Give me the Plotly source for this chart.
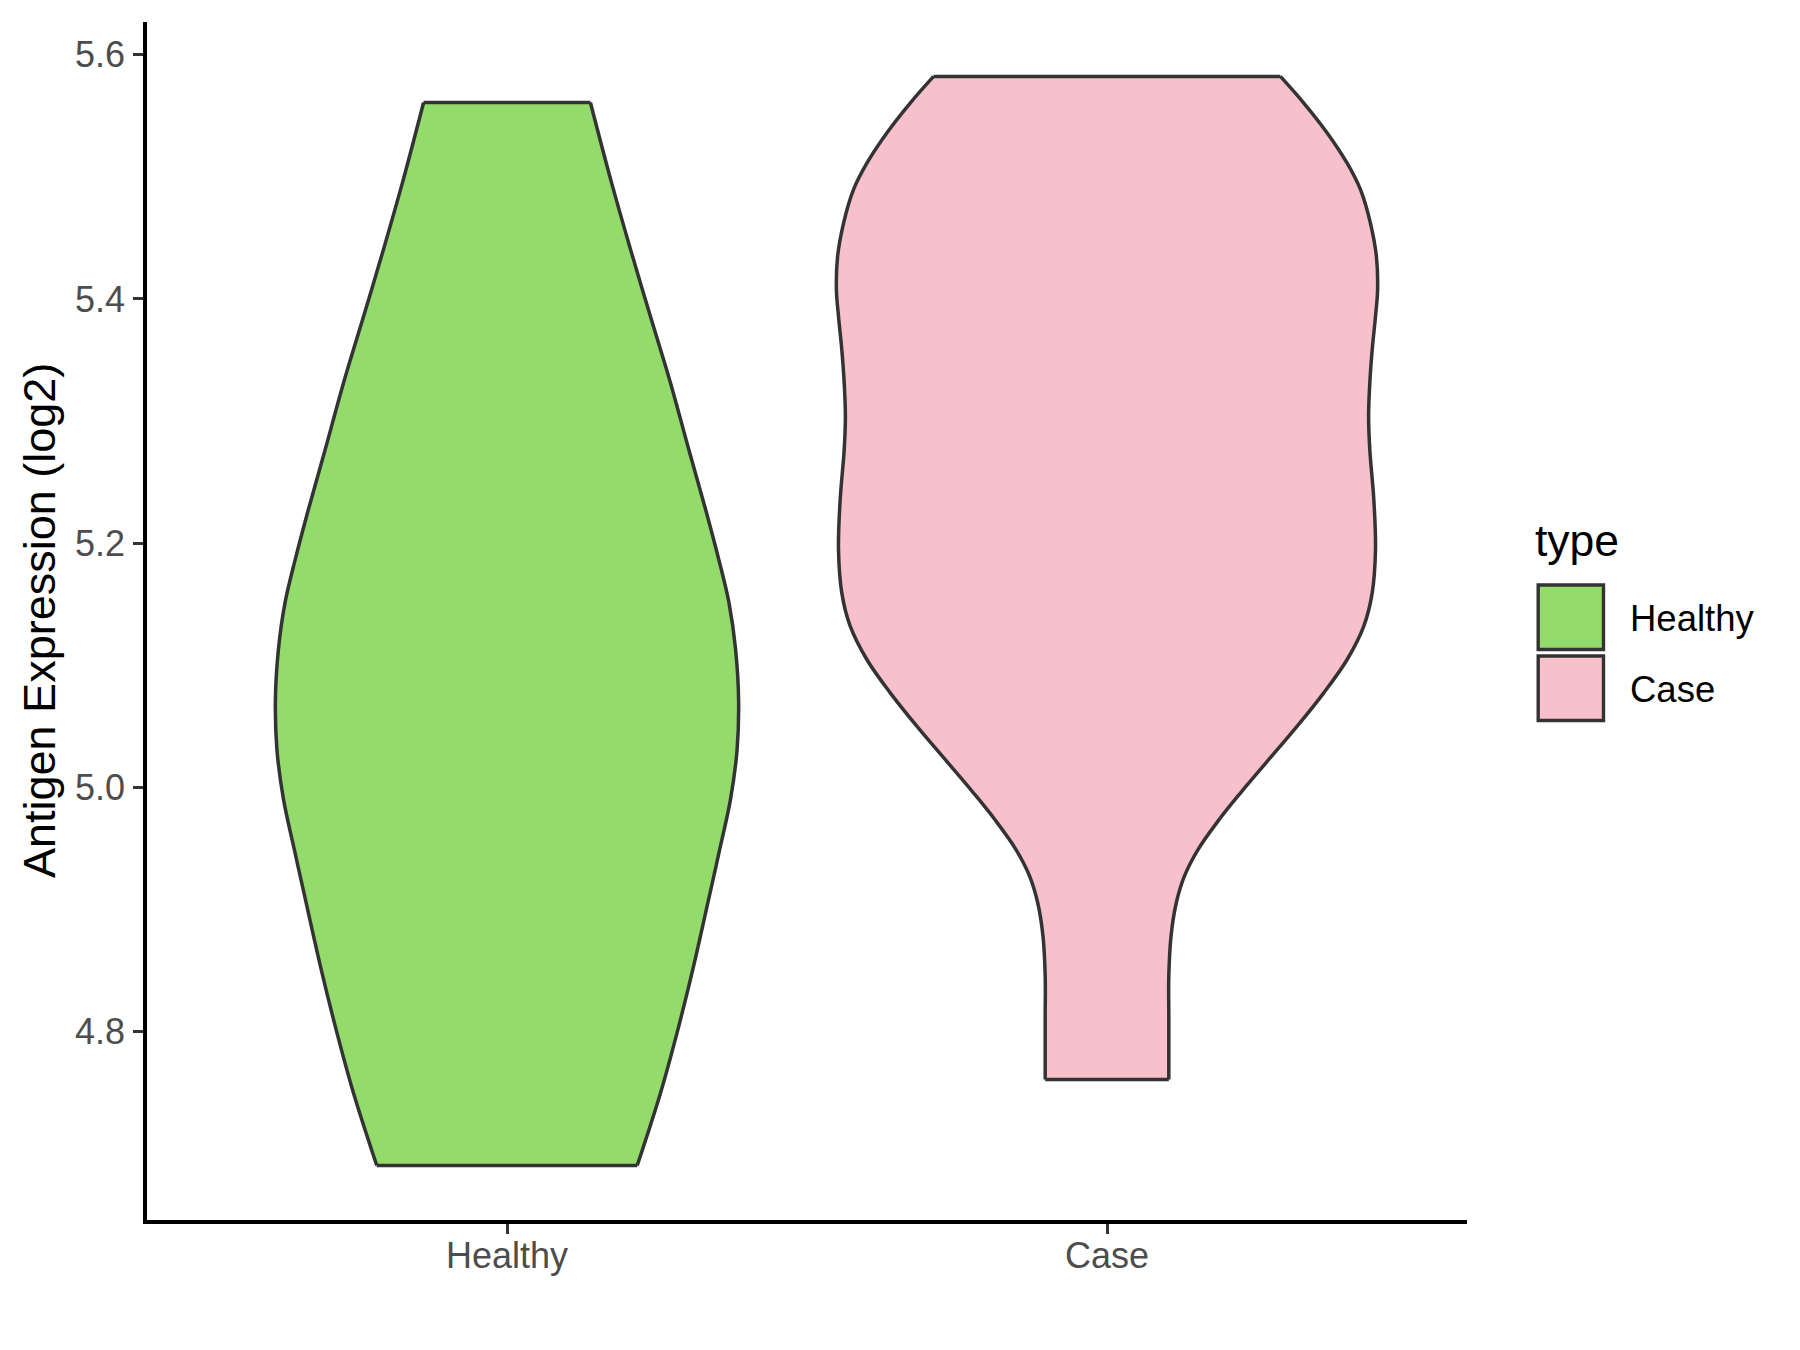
import plotly.graph_objects as go

# ---------------- data ----------------
categories = ["Healthy", "Case"]
fill_colors = ["#93DB6B", "#F7C0CB"]
outline_color = "#333333"

# violin outline: expression level (log2) and half-width of the density (x-axis units)
healthy_y = [4.690, 4.7497, 4.7989, 4.8534, 4.908, 4.949, 4.990, 5.0309, 5.0718,
             5.1128, 5.151, 5.1865, 5.2275, 5.2766, 5.3312, 5.3858, 5.4404, 5.4957, 5.561]
healthy_halfwidth = [0.217, 0.256, 0.2835, 0.311, 0.336, 0.3545, 0.3725, 0.3835, 0.386,
                     0.381, 0.370, 0.353, 0.331, 0.303, 0.2725, 0.239, 0.206, 0.174, 0.139]

case_y = [4.7606, 4.8124, 4.8452, 4.878, 4.9053, 4.9271, 4.9489, 4.9735, 4.9954, 5.0227,
          5.050, 5.0773, 5.1046, 5.1319, 5.1592, 5.1947, 5.2356, 5.2766, 5.3038, 5.3312,
          5.3585, 5.3857, 5.4076, 5.4349, 5.4622, 5.4895, 5.5114, 5.536, 5.5605, 5.5823]
case_halfwidth = [0.103, 0.103, 0.103, 0.1067, 0.1155, 0.129, 0.1517, 0.187, 0.2227, 0.2698,
                  0.317, 0.3613, 0.4003, 0.428, 0.442, 0.4475, 0.4447, 0.438, 0.436, 0.438,
                  0.442, 0.4475, 0.451, 0.449, 0.439, 0.4225, 0.400, 0.367, 0.328, 0.289]

y_ticks = [4.8, 5.0, 5.2, 5.4, 5.6]
y_title = "Antigen Expression (log2)"
legend_title = "type"

# ---------------- figure ----------------
W, H = 1800, 1350
OFF = 8  # default body margin of the html page
L, T = 139, 14
plot_w, plot_h = 1320, 1198
R = W - L - plot_w
B = H - T - plot_h

profiles = [(healthy_y, healthy_halfwidth), (case_y, case_halfwidth)]
LW = 3.5

fig = go.Figure()
for i, (ys, hw) in enumerate(profiles):
    c = i + 1
    left_x = [c - w for w in hw]
    right_x = [c + w for w in hw]
    fig.add_trace(go.Scatter(x=left_x, y=ys, mode="lines",
                             line=dict(width=0, shape="spline", smoothing=1, simplify=False),
                             showlegend=False, hoverinfo="skip"))
    fig.add_trace(go.Scatter(x=right_x, y=ys, mode="lines",
                             line=dict(width=0, shape="spline", smoothing=1, simplify=False),
                             fill="tonextx", fillcolor=fill_colors[i],
                             name=categories[i], showlegend=False, hoverinfo="skip"))
for i, (ys, hw) in enumerate(profiles):
    c = i + 1
    left_x = [c - w for w in hw]
    right_x = [c + w for w in hw]
    for xs in (left_x, right_x):
        fig.add_trace(go.Scatter(x=xs, y=ys, mode="lines",
                                 line=dict(width=LW, color=outline_color, shape="spline",
                                           smoothing=1, simplify=False),
                                 showlegend=False, hoverinfo="skip"))
    fig.add_trace(go.Scatter(x=[left_x[0], right_x[0], None, left_x[-1], right_x[-1]],
                             y=[ys[0], ys[0], None, ys[-1], ys[-1]],
                             mode="lines", line=dict(width=LW, color=outline_color),
                             showlegend=False, hoverinfo="skip"))

font_family = "Liberation Sans, Arial, sans-serif"

y_min = min(min(healthy_y), min(case_y))
y_max = max(max(healthy_y), max(case_y))
pad = (y_max - y_min) * 0.05

fig.update_layout(
    width=W, height=H,
    margin=dict(l=L, r=R, t=T, b=B, pad=0),
    paper_bgcolor="white", plot_bgcolor="white",
    font=dict(family=font_family, size=36, color="#4D4D4D"),
    showlegend=False,
)
fig.update_xaxes(
    range=[0.4, 2.6], tickmode="array", tickvals=[1, 2], ticktext=categories,
    showgrid=False, zeroline=False, showline=True, linecolor="black", linewidth=3.5,
    ticks="outside", ticklen=10, tickwidth=3.2, tickcolor="#333333",
    tickfont=dict(size=36, color="#4D4D4D", family=font_family),
    ticklabelstandoff=-9,
)
fig.update_yaxes(
    range=[y_min - pad, y_max + pad], tickmode="array", tickvals=y_ticks,
    ticktext=[f"{v:.1f}" for v in y_ticks],
    showgrid=False, zeroline=False, showline=True, linecolor="black", linewidth=3.5,
    ticks="outside", ticklen=10, tickwidth=3.2, tickcolor="#333333",
    tickfont=dict(size=36, color="#4D4D4D", family=font_family),
    ticklabelstandoff=1,
)


def px2x(page_x):
    return (page_x - OFF - L) / plot_w


def px2y(page_y):
    return (H - B - (page_y - OFF)) / plot_h


# y-axis title
fig.add_annotation(text=y_title, textangle=-90, xref="paper", yref="paper",
                   x=px2x(39), y=0.5, xanchor="center", yanchor="middle", showarrow=False,
                   font=dict(size=45, color="black", family=font_family))

# legend (ggplot-style, to the right of the panel)
fig.add_annotation(text=legend_title, xref="paper", yref="paper",
                   x=px2x(1533), y=px2y(540), xanchor="left", yanchor="middle", showarrow=False,
                   font=dict(size=44.5, color="black", family=font_family))
key_tops = [585, 656]
key_h = 64.5
for i, cat in enumerate(categories):
    y0 = key_tops[i]
    y1 = y0 + key_h
    fig.add_shape(type="rect", xref="paper", yref="paper",
                  x0=px2x(1538.2), x1=px2x(1603.5), y0=px2y(y1), y1=px2y(y0),
                  fillcolor=fill_colors[i], line=dict(color=outline_color, width=3.4))
    fig.add_annotation(text=cat, xref="paper", yref="paper",
                       x=px2x(1628), y=px2y((y0 + y1) / 2 + 1), xanchor="left", yanchor="middle",
                       showarrow=False, font=dict(size=36.5, color="black", family=font_family))

fig.write_html("out.html")
